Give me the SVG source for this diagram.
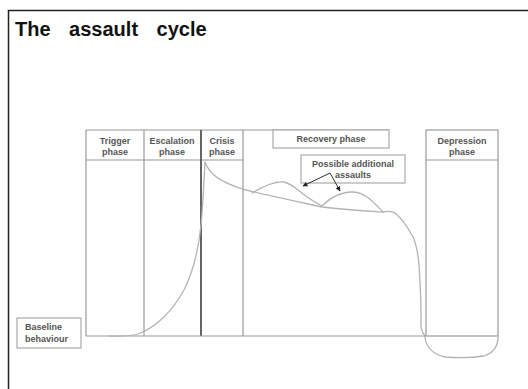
<svg xmlns="http://www.w3.org/2000/svg" width="528" height="389" viewBox="0 0 528 389">
<style>
.lbl{font-family:"Liberation Sans",Arial,sans-serif;font-weight:bold;font-size:9px;fill:#555;text-anchor:middle}
.col{fill:none;stroke:#999;stroke-width:1.2}
.curve{fill:none;stroke:#b3b3b3;stroke-width:1.3;stroke-linejoin:round;stroke-linecap:round}
.box{fill:#fff;stroke:#aaa;stroke-width:1.2}
</style>
<defs>
<marker id="ah" viewBox="0 0 10 10" refX="9" refY="5" markerWidth="5" markerHeight="5" orient="auto">
<path d="M0,0 L10,5 L0,10 z" fill="#222"/>
</marker>
</defs>
<rect width="528" height="389" fill="#fff"/>
<path d="M8.5,400 V10.5 H528" fill="none" stroke="#222" stroke-width="1.5"/>
<text x="15" y="36" font-family="'Liberation Sans',Arial,sans-serif" font-weight="bold" font-size="20" word-spacing="13" fill="#111">The assault cycle</text>

<g id="columns">
<line class="col" x1="86" y1="130" x2="389" y2="130"/>
<line class="col" x1="86" y1="160" x2="243" y2="160"/>
<line class="col" x1="86" y1="130" x2="86" y2="336"/>
<line class="col" x1="144" y1="130" x2="144" y2="336"/>
<line x1="201" y1="130" x2="201" y2="336" stroke="#555" stroke-width="1.8"/>
<line class="col" x1="243" y1="130" x2="243" y2="336"/>
<line class="col" x1="86" y1="336" x2="426" y2="336"/>
</g>

<g id="trigger"><text class="lbl" x="115" y="144">Trigger</text><text class="lbl" x="115" y="155">phase</text></g>
<g id="escalation"><text class="lbl" x="172" y="144">Escalation</text><text class="lbl" x="172" y="155">phase</text></g>
<g id="crisis"><text class="lbl" x="222" y="144">Crisis</text><text class="lbl" x="222" y="155">phase</text></g>
<g id="recovery"><rect class="box" x="273" y="130" width="116" height="18"/><text class="lbl" x="331" y="142">Recovery phase</text></g>
<g id="depression"><rect class="col" x="426" y="130" width="72" height="206"/><line class="col" x1="426" y1="160" x2="498" y2="160"/><text class="lbl" x="462" y="144">Depression</text><text class="lbl" x="462" y="155">phase</text></g>
<g id="assaults"><rect class="box" x="301" y="155" width="104" height="28"/><text class="lbl" x="353" y="167">Possible additional</text><text class="lbl" x="353" y="178">assaults</text></g>
<g id="baseline"><rect class="box" x="17" y="318" width="64" height="30"/><text class="lbl" x="25" y="330" style="text-anchor:start">Baseline</text><text class="lbl" x="25" y="342" style="text-anchor:start">behaviour</text></g>

<g id="curve">
<path class="curve" d="M110,336 C118,336 128,337 138,334 C155,328 172,312 184,290 C195,268 199,245 201,225 C203,205 204,180 205,162 C210,176 222,182 242,189 C262,194 290,200 322,207 C345,210 365,211 383,212"/>
<path class="curve" d="M252,193 C262,187 275,181 284,182 C292,184 298,190 303,194 C310,199 316,203 322,206 C327,201 335,195 344,193 C352,191 360,192 367,197 C373,201 378,207 383,212 C388,211 392,211 395,213 C400,217 407,226 413,237 C417,246 418,253 419,265 C420,280 421,300 421,315 C421,325 420,330 425,336"/>
<path class="curve" d="M425,337 C426,347 432,354 445,357 C458,358 472,358 484,356 C493,353 498,347 498,337"/>
</g>

<g id="connectors" fill="none" stroke="#333" stroke-width="1">
<path d="M330,173 L303,186" marker-end="url(#ah)"/>
<path d="M330,173 L340,191" marker-end="url(#ah)"/>
</g>
</svg>
